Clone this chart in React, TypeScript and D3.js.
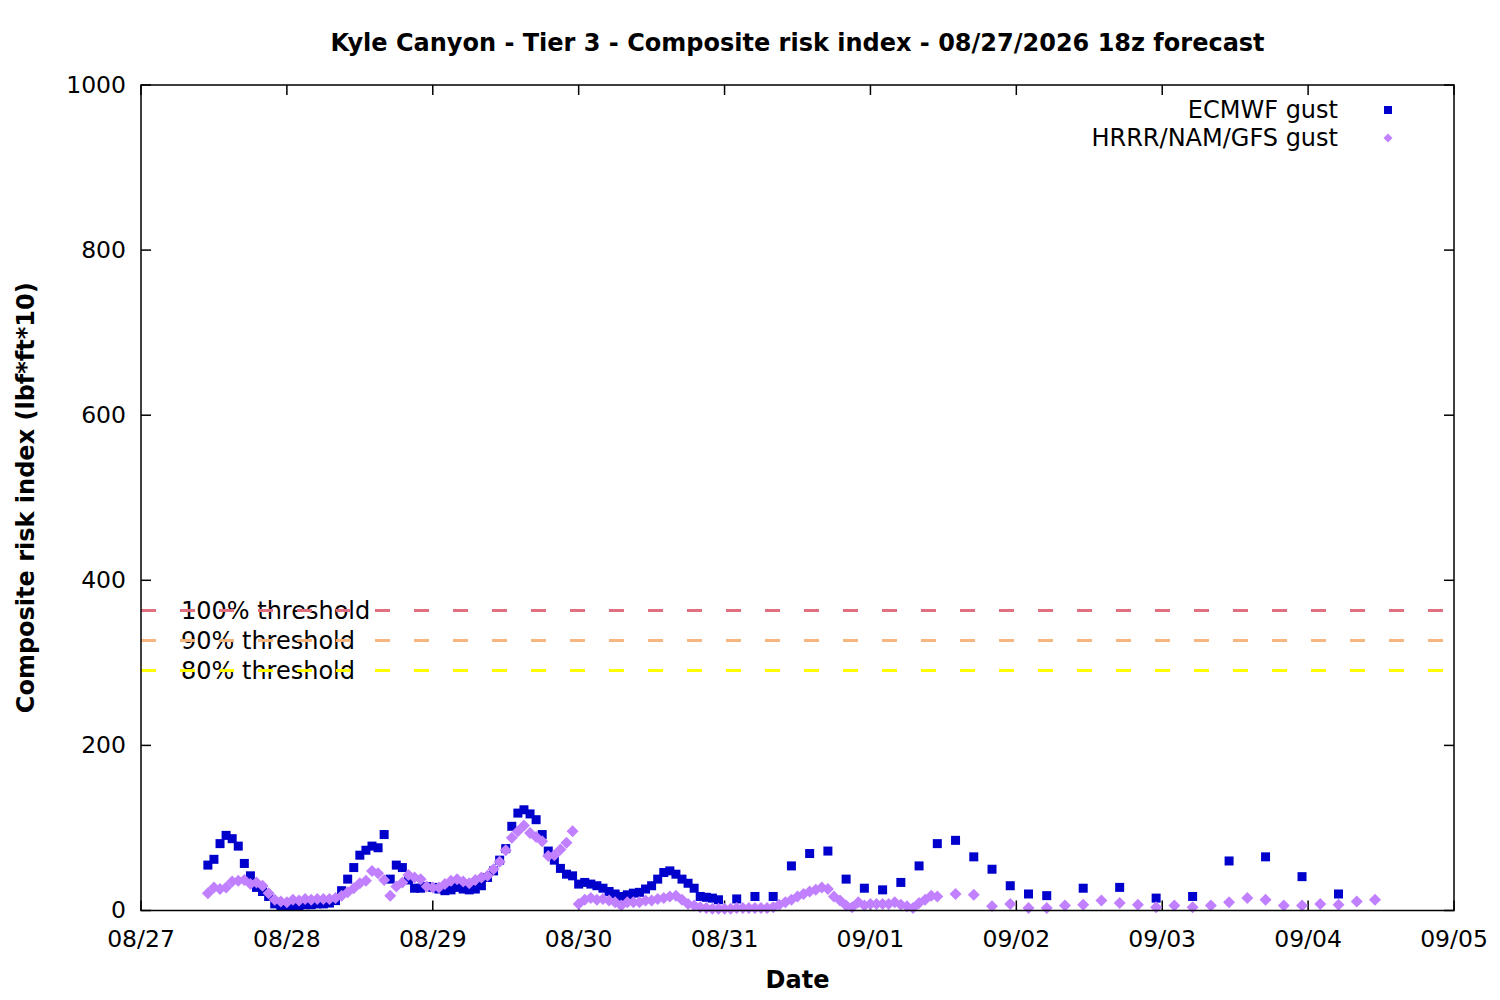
import * as d3 from 'd3'

const WIDTH = 1500
const HEIGHT = 1000
const MARGIN = { top: 85, right: 46, bottom: 89.5, left: 141 }

const START = Date.UTC(2026, 7, 27)
const HOUR = 3600 * 1000

// hours after 08/27 00z
const ecmwfHours = [...d3.range(11, 96), ...d3.range(98, 150, 3), ...d3.range(155, 198, 6)]
const ecmwfValues = [
  55, 62, 81, 91, 87, 78, 57, 42, 28, 23, 17, 8, 5, 5, 6, 6, 7, 7, 8, 8, 9, 12, 24, 38, 52,
  67, 73, 78, 76, 92, 38, 55, 52, 37, 27, 27, 29, 28, 26, 24, 25, 28, 26, 25, 26, 30, 40, 48,
  61, 75, 102, 118, 122, 117, 110, 92, 72, 61, 51, 44, 42, 32, 34, 32, 30, 27, 23, 20, 17, 19,
  21, 22, 26, 30, 38, 46, 48, 44, 38, 33, 27, 17, 16, 15, 13,
  // 3-hourly
  14, 17, 17, 54, 69, 72, 38, 27, 25, 34, 54, 81, 85, 65, 50, 30, 20, 18,
  // 6-hourly
  27, 28, 15, 17, 60, 65, 41, 20,
]

const modelHours = [...d3.range(11, 132), ...d3.range(134, 204, 3)]
const modelValues = [
  // HRRR
  21, 28, 26, 28, 35, 36, 37, 32, 34, 30, 21, 13, 11, 10, 13, 12, 14, 13, 14, 14, 14, 15, 18,
  22, 27, 33, 36, 48, 45, 37, 18, 29, 34, 43, 40, 38, 29, 28, 28, 32, 36, 38, 35, 33, 37, 40,
  42, 50, 59, 73, 88, 96, 103, 94, 89, 84, 66, 67, 74, 82, 96,
  // NAM
  8, 13, 15, 13, 14, 12, 10, 6, 10, 10, 10, 12, 12, 14, 15, 17, 18, 13, 8, 6, 4, 3, 2, 2, 2, 2,
  3, 3, 3, 3, 3, 3, 4, 7, 10, 13, 17, 20, 23, 25, 28, 26, 17, 12, 6, 4, 10, 6, 8, 8, 8, 8, 10,
  7, 5, 3, 9, 13, 18, 17,
  // GFS
  20, 19, 5, 8, 3, 3, 6, 7, 12, 9, 7, 4, 6, 4, 6, 10, 15, 13, 6, 6, 8, 7, 11, 13,
]

const THRESHOLD = 363.3
const thresholdLevels = [
  { label: '100% threshold', frac: 1.0, color: '#e0707f' },
  { label: '90% threshold', frac: 0.9, color: '#f5b680' },
  { label: '80% threshold', frac: 0.8, color: '#ffff00' },
]

const yTicks = [0, 200, 400, 600, 800, 1000]

const FONT = '"DejaVu Sans", sans-serif'
const SQUARE = '#0000cc'
const VIOLET = '#c080ff'

function diamond(cx: number, cy: number, r: number) {
  return `M${cx},${cy - r}L${cx + r},${cy}L${cx},${cy + r}L${cx - r},${cy}Z`
}

export default function App() {
  const boundsWidth = WIDTH - MARGIN.left - MARGIN.right
  const boundsHeight = HEIGHT - MARGIN.top - MARGIN.bottom

  const xScale = d3
    .scaleUtc()
    .domain([new Date(START), new Date(START + 9 * 24 * HOUR)])
    .range([0, boundsWidth])
  const yScale = d3.scaleLinear().domain([0, 1000]).range([boundsHeight, 0])

  const xTicks = xScale.ticks(d3.utcDay.every(1)!)
  const fmt = d3.utcFormat('%m/%d')
  const tx = (h: number) => xScale(new Date(START + h * HOUR))

  return (
    <div style={{ position: 'absolute', top: 0, left: 0 }}>
      <svg width={WIDTH} height={HEIGHT} style={{ display: 'block', background: 'white' }}>
        <text
          x={MARGIN.left + boundsWidth / 2}
          y={44}
          textAnchor="middle"
          dominantBaseline="middle"
          fontFamily={FONT}
          fontWeight="bold"
          fontSize={24}
        >
          Kyle Canyon - Tier 3 - Composite risk index - 08/27/2026 18z forecast
        </text>
        <text
          x={MARGIN.left + boundsWidth / 2}
          y={981}
          textAnchor="middle"
          dominantBaseline="middle"
          fontFamily={FONT}
          fontWeight="bold"
          fontSize={24}
        >
          Date
        </text>
        <text
          transform={`translate(27,${MARGIN.top + boundsHeight / 2}) rotate(-90)`}
          textAnchor="middle"
          dominantBaseline="middle"
          fontFamily={FONT}
          fontWeight="bold"
          fontSize={24}
        >
          Composite risk index (lbf*ft*10)
        </text>

        <g transform={`translate(${MARGIN.left},${MARGIN.top})`}>
          {/* y ticks */}
          {yTicks.map((t) => (
            <g key={'y' + t}>
              <line x1={0} x2={10} y1={yScale(t)} y2={yScale(t)} stroke="black" strokeWidth={1.5} />
              <line
                x1={boundsWidth - 10}
                x2={boundsWidth}
                y1={yScale(t)}
                y2={yScale(t)}
                stroke="black"
                strokeWidth={1.5}
              />
              <text
                x={-15}
                y={yScale(t) + 1}
                textAnchor="end"
                dominantBaseline="middle"
                fontFamily={FONT}
                fontSize={23.5}
              >
                {t}
              </text>
            </g>
          ))}
          {/* x ticks */}
          {xTicks.map((d) => (
            <g key={'x' + d.getTime()}>
              <line
                x1={xScale(d)}
                x2={xScale(d)}
                y1={boundsHeight}
                y2={boundsHeight - 10}
                stroke="black"
                strokeWidth={1.5}
              />
              <line x1={xScale(d)} x2={xScale(d)} y1={0} y2={10} stroke="black" strokeWidth={1.5} />
              <text
                x={xScale(d)}
                y={boundsHeight + 29.5}
                textAnchor="middle"
                dominantBaseline="middle"
                fontFamily={FONT}
                fontSize={23.5}
              >
                {fmt(d)}
              </text>
            </g>
          ))}

          {/* threshold labels, lines go over them */}
          {thresholdLevels.map((t) => (
            <text
              key={t.label}
              x={40}
              y={yScale(THRESHOLD * t.frac) + 1}
              dominantBaseline="middle"
              fontFamily={FONT}
              fontSize={24}
            >
              {t.label}
            </text>
          ))}
          {thresholdLevels.map((t) => (
            <line
              key={t.label + 'l'}
              x1={0}
              x2={boundsWidth}
              y1={yScale(THRESHOLD * t.frac)}
              y2={yScale(THRESHOLD * t.frac)}
              stroke={t.color}
              strokeWidth={3}
              strokeDasharray="15 24"
            />
          ))}

          {/* ECMWF */}
          {ecmwfHours.map((h, i) => (
            <rect
              key={'e' + i}
              x={tx(h) - 4.5}
              y={yScale(ecmwfValues[i]) - 4.5}
              width={9}
              height={9}
              fill={SQUARE}
            />
          ))}
          {/* HRRR/NAM/GFS */}
          {modelHours.map((h, i) => (
            <path key={'m' + i} d={diamond(tx(h), yScale(modelValues[i]), 6)} fill={VIOLET} />
          ))}

          {/* legend */}
          <text
            x={1338 - MARGIN.left}
            y={111 - MARGIN.top}
            textAnchor="end"
            dominantBaseline="middle"
            fontFamily={FONT}
            fontSize={24}
          >
            ECMWF gust
          </text>
          <rect x={1388 - MARGIN.left - 4} y={110 - MARGIN.top - 4} width={8} height={8} fill={SQUARE} />
          <text
            x={1338 - MARGIN.left}
            y={139 - MARGIN.top}
            textAnchor="end"
            dominantBaseline="middle"
            fontFamily={FONT}
            fontSize={24}
          >
            HRRR/NAM/GFS gust
          </text>
          <path d={diamond(1388 - MARGIN.left, 138 - MARGIN.top, 4.5)} fill={VIOLET} />

          <rect x={0} y={0} width={boundsWidth} height={boundsHeight} fill="none" stroke="black" strokeWidth={1.5} />
        </g>
      </svg>
    </div>
  )
}
